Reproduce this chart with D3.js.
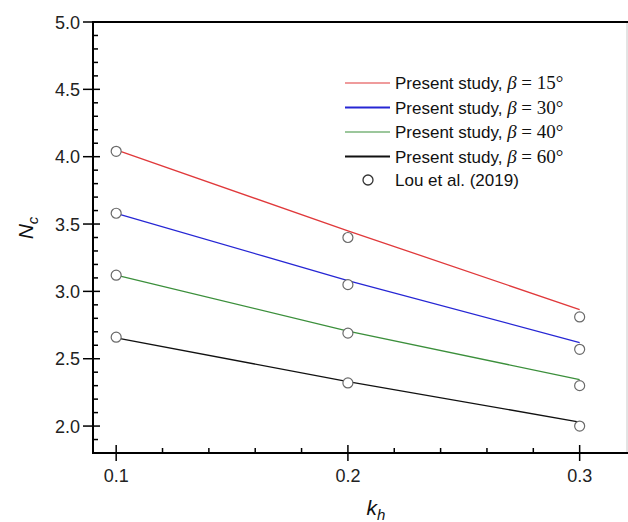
<!DOCTYPE html>
<html>
<head>
<meta charset="utf-8">
<script src="https://cdn.jsdelivr.net/npm/d3@7/dist/d3.min.js"></script>
<style>
  html, body { margin: 0; padding: 0; background: #fff; }
  svg { display: block; }
  text { font-family: "Liberation Sans", Arial, sans-serif; }
</style>
</head>
<body>
<svg id="chart" width="628" height="522"></svg>
<script>
// Horizontal seismic coefficient values
const kh = [0.1, 0.2, 0.3];

// Present study curves, one per slope angle beta
const betas = [15, 30, 40, 60];
const present15 = [4.05, 3.45, 2.865];
const present30 = [3.58, 3.08, 2.62];
const present40 = [3.12, 2.705, 2.345];
const present60 = [2.655, 2.33, 2.03];

// Lou et al. (2019) comparison points
const lou15 = [4.04, 3.40, 2.81];
const lou30 = [3.58, 3.05, 2.57];
const lou40 = [3.12, 2.69, 2.30];
const lou60 = [2.66, 2.32, 2.00];

const xTicks = [0.1, 0.2, 0.3];
const yTicks = [2.0, 2.5, 3.0, 3.5, 4.0, 4.5, 5.0];

const colors = ["#e0393b", "#2626d4", "#3b8f3b", "#111111"];
const presentSeries = [present15, present30, present40, present60];
const louSeries = [lou15, lou30, lou40, lou60];

const svg = d3.select("#chart");
const pLeft = 93, pRight = 626, pTop = 22, pBottom = 453;

const x = d3.scaleLinear().domain([0.09, 0.32]).range([pLeft, pRight]);
const y = d3.scaleLinear().domain([1.8, 5.0]).range([pBottom, pTop]);

// Frame: thin grey right edge, black top edge
svg.append("line")
  .attr("x1", pRight + 1).attr("x2", pRight + 1)
  .attr("y1", pTop).attr("y2", pBottom)
  .attr("stroke", "#c8c8c8").attr("stroke-width", 1);
svg.append("line")
  .attr("x1", pLeft).attr("x2", 628)
  .attr("y1", pTop).attr("y2", pTop)
  .attr("stroke", "#000").attr("stroke-width", 2);

// Minor ticks (inward)
const xMinor = d3.range(0.12, 0.3, 0.02).filter(v => Math.abs(v - 0.2) > 1e-6);
const yMinor = d3.range(1.9, 5.0, 0.1).filter(v => Math.abs(v * 2 - Math.round(v * 2)) > 1e-6);

const g = svg.append("g");
g.selectAll(".xminor").data(xMinor).join("line")
  .attr("x1", d => x(d)).attr("x2", d => x(d))
  .attr("y1", pBottom).attr("y2", pBottom - 5)
  .attr("stroke", "#000").attr("stroke-width", 1.5);
g.selectAll(".yminor").data(yMinor).join("line")
  .attr("x1", pLeft).attr("x2", pLeft + 5)
  .attr("y1", d => y(d)).attr("y2", d => y(d))
  .attr("stroke", "#000").attr("stroke-width", 1.5);

// Major ticks crossing the axes
g.selectAll(".xmajor").data(xTicks).join("line")
  .attr("x1", d => x(d)).attr("x2", d => x(d))
  .attr("y1", pBottom - 8).attr("y2", pBottom + 8)
  .attr("stroke", "#000").attr("stroke-width", 1.5);
g.selectAll(".ymajor").data(yTicks).join("line")
  .attr("x1", pLeft - 10).attr("x2", pLeft + 7)
  .attr("y1", d => y(d)).attr("y2", d => y(d))
  .attr("stroke", "#000").attr("stroke-width", 1.5);

// Axis lines
svg.append("line")
  .attr("x1", pLeft).attr("x2", pLeft)
  .attr("y1", pTop - 1).attr("y2", pBottom + 1)
  .attr("stroke", "#000").attr("stroke-width", 2);
svg.append("line")
  .attr("x1", pLeft - 1).attr("x2", 628)
  .attr("y1", pBottom).attr("y2", pBottom)
  .attr("stroke", "#000").attr("stroke-width", 2);

// Tick labels
svg.selectAll(".xlab").data(xTicks).join("text")
  .attr("x", d => x(d)).attr("y", pBottom + 29)
  .attr("text-anchor", "middle")
  .attr("font-size", 18).attr("fill", "#222")
  .text(d => d.toFixed(1));
svg.selectAll(".ylab").data(yTicks).join("text")
  .attr("x", pLeft - 13).attr("y", d => y(d) + 6.5)
  .attr("text-anchor", "end")
  .attr("font-size", 18).attr("fill", "#222")
  .text(d => d.toFixed(1));

// Axis titles
const yt = svg.append("text")
  .attr("transform", `translate(33, ${y(3.5) + 4}) rotate(-90)`)
  .attr("text-anchor", "middle")
  .attr("font-size", 21).attr("fill", "#111");
yt.append("tspan").attr("font-style", "italic").text("N");
yt.append("tspan").attr("font-style", "italic").attr("font-size", 15).attr("dy", 5).text("c");

const xt = svg.append("text")
  .attr("x", 376).attr("y", 515)
  .attr("text-anchor", "middle")
  .attr("font-size", 21).attr("fill", "#111");
xt.append("tspan").attr("font-style", "italic").text("k");
xt.append("tspan").attr("font-style", "italic").attr("font-size", 15).attr("dy", 5).text("h");

// Present study lines
const line = d3.line().x((d, i) => x(kh[i])).y(d => y(d));
svg.selectAll(".series").data(presentSeries).join("path")
  .attr("d", d => line(d))
  .attr("fill", "none")
  .attr("stroke", (d, i) => colors[i])
  .attr("stroke-width", 1.3);

// Lou et al. points
louSeries.forEach(vals => {
  svg.append("g").selectAll("circle").data(vals).join("circle")
    .attr("cx", (d, i) => x(kh[i])).attr("cy", d => y(d))
    .attr("r", 5)
    .attr("fill", "#fff")
    .attr("stroke", "#6a6a6a").attr("stroke-width", 1.2);
});

// Legend
const legX = 345, legY0 = 83, legDy = 24.5;
const leg = svg.append("g");
betas.forEach((b, i) => {
  const ly = legY0 + i * legDy;
  leg.append("line")
    .attr("x1", legX).attr("x2", legX + 45)
    .attr("y1", ly).attr("y2", ly)
    .attr("stroke", colors[i]).attr("stroke-width", i === 1 || i === 3 ? 1.8 : 1.2);
  const t = leg.append("text")
    .attr("x", legX + 50).attr("y", ly + 6)
    .attr("font-size", 17).attr("fill", "#111");
  t.append("tspan").text("Present study, ");
  t.append("tspan").attr("font-family", "Liberation Serif, serif").attr("font-style", "italic").attr("font-size", 19).text("\u03B2");
  t.append("tspan").attr("font-family", "Liberation Serif, serif").attr("font-size", 19).text(" = " + b + "\u00B0");
});
const ly5 = legY0 + 4 * legDy;
leg.append("circle")
  .attr("cx", legX + 23).attr("cy", ly5 - 1).attr("r", 5)
  .attr("fill", "#fff").attr("stroke", "#333").attr("stroke-width", 1.3);
leg.append("text")
  .attr("x", legX + 50).attr("y", ly5 + 5)
  .attr("font-size", 17).attr("fill", "#111")
  .text("Lou et al. (2019)");
</script>
</body>
</html>
